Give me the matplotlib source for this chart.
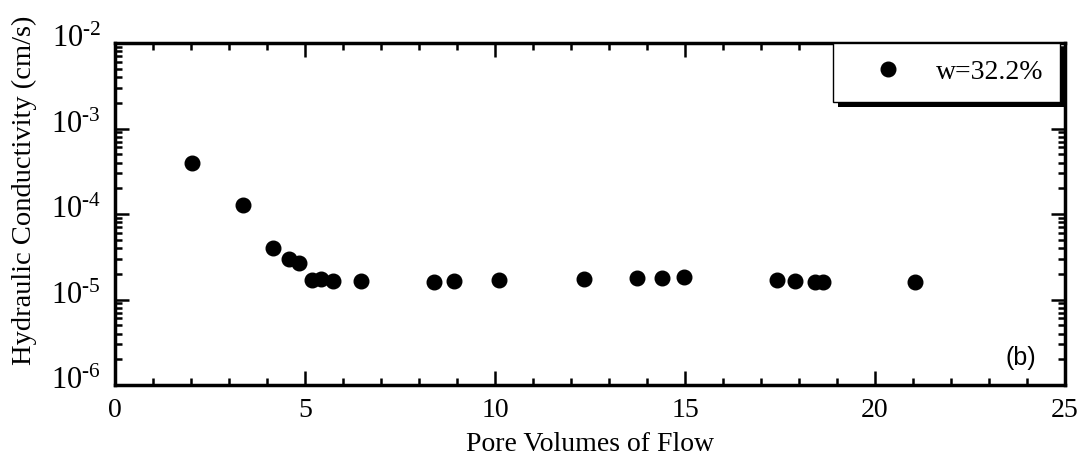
import numpy as np
import matplotlib.pyplot as plt
from matplotlib.ticker import LogLocator, FixedLocator, MultipleLocator, FuncFormatter
from matplotlib.patches import Rectangle
from matplotlib.transforms import ScaledTranslation, IdentityTransform

plt.rcParams['font.family'] = 'Liberation Serif'
plt.rcParams['mathtext.fontset'] = 'custom'
plt.rcParams['mathtext.rm'] = 'Liberation Serif'

# Pore volumes of flow vs. hydraulic conductivity, w = 32.2 %
pore_volumes = [2.03, 3.37, 4.16, 4.58, 4.84, 5.18, 5.42, 5.74, 6.47, 8.39, 8.92,
                10.1, 12.34, 13.74, 14.39, 14.97, 17.42, 17.89, 18.42, 18.63, 21.05]
conductivity = [4.0e-4, 1.29e-4, 3.98e-5, 2.96e-5, 2.7e-5, 1.71e-5, 1.75e-5, 1.63e-5,
                1.63e-5, 1.59e-5, 1.63e-5, 1.71e-5, 1.75e-5, 1.8e-5, 1.8e-5, 1.85e-5,
                1.71e-5, 1.63e-5, 1.59e-5, 1.59e-5, 1.59e-5]
series_label = 'w=32.2%'
y_decades = [1e-6, 1e-5, 1e-4, 1e-3, 1e-2]

fig = plt.figure(figsize=(10.87, 4.59), dpi=100)
ax = fig.add_axes([0.1058, 0.1612, 0.874, 0.7451])

ax.plot(pore_volumes, conductivity, 'o', color='black', ms=10.5, label=series_label)

ax.set_yscale('log')
ax.set_xlim(0, 25)
ax.set_ylim(1e-6, 1e-2)

ax.xaxis.set_major_locator(MultipleLocator(5))
ax.xaxis.set_minor_locator(MultipleLocator(1))
ax.yaxis.set_major_locator(FixedLocator(y_decades))
ax.yaxis.set_minor_locator(LogLocator(base=10, subs=np.arange(2, 10), numticks=20))
ax.yaxis.set_major_formatter(
    FuncFormatter(lambda v, p: r'$\mathregular{10^{\text{-}%d}}$' % abs(round(np.log10(v)))))

ax.tick_params(which='both', direction='in', top=True, right=True, width=1.8, pad=9)
ax.tick_params(axis='x', labelsize=20)
ax.tick_params(axis='y', labelsize=22, pad=10)
ax.tick_params(which='major', length=10)
ax.tick_params(which='minor', length=5)
for s in ax.spines.values():
    s.set_linewidth(2.5)

# lift the y tick labels a little
lift = ScaledTranslation(0, 5 / 72, fig.dpi_scale_trans)
for t in ax.yaxis.get_major_ticks():
    t.label1.set_transform(t.label1.get_transform() + lift)

ax.set_xlabel('Pore Volumes of Flow', fontsize=20, labelpad=7)
ax.set_ylabel('Hydraulic Conductivity (cm/s)', fontsize=20.5)
ax.yaxis.set_label_coords(-0.082, 0.57)

ax.text(0.970, 0.045, '(b)', transform=ax.transAxes, family='Liberation Sans',
        fontsize=18, ha='right', va='bottom')

leg = ax.legend(loc='upper right', bbox_to_anchor=(0.995, 1.0), fontsize=20,
                frameon=True, fancybox=False, shadow=False,
                edgecolor='black', framealpha=1, borderpad=0.6, handletextpad=0.33,
                borderaxespad=0, handlelength=2.8)
leg.get_frame().set_linewidth(1.0)

# solid drop shadow behind the legend box
fig.canvas.draw()
bb = leg.get_window_extent()
ax.add_patch(Rectangle((bb.x0 + 5, bb.y0 - 5), bb.width, bb.height, transform=IdentityTransform(),
                       facecolor='black', edgecolor='none', zorder=4.9, clip_on=False))

fig.savefig('out.png', dpi=100)
